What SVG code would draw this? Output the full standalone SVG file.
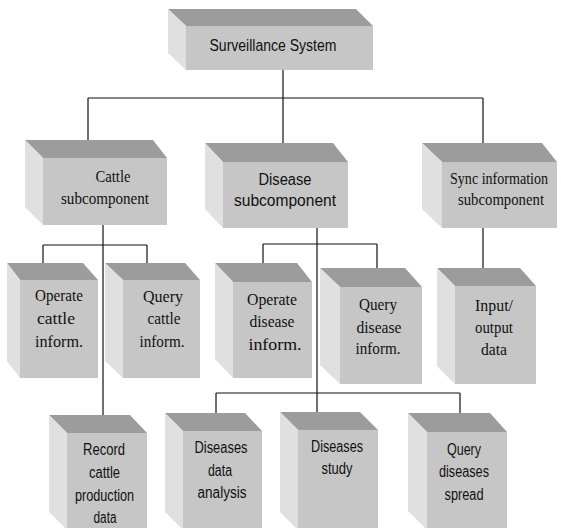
<svg xmlns="http://www.w3.org/2000/svg" width="561" height="528" viewBox="0 0 561 528">
<style>
.top{fill:#9c9c9c}
.left{fill:#e0e0e0}
.front{fill:#c6c6c6}
.ser{font-family:"Liberation Serif","DejaVu Serif","Times New Roman",serif;font-size:17px;fill:#111;text-anchor:middle}
.san{font-family:"Liberation Sans",Arial,sans-serif;font-size:16px;fill:#111;text-anchor:middle}
.con{stroke:#111;stroke-width:1.2;fill:none}
</style>
<rect width="561" height="528" fill="#fff"/>
<g id="connectors" class="con">
<path d="M283 70V98M88 98H483M88 98V140M283 98V143M483 98V143"/>
<path d="M103 225V415M43 245H147M43 245V263M147 245V263"/>
<path d="M317 228V412M263 244H377M263 244V263M377 244V268M216 393H460M216 393V413M460 393V413"/>
<path d="M483 228V268"/>
</g>
<g id="surveillance">
<polygon class="top" points="168,9 356,9 373,26 186,26"/>
<polygon class="left" points="168,9 186,26 186,70 168,53"/>
<rect class="front" x="186" y="26" width="187" height="44"/>
<text class="san" x="273" y="51" font-size="17" textLength="127" lengthAdjust="spacingAndGlyphs">Surveillance System</text>
</g>
<g id="cattle">
<polygon class="top" points="25,140 153,140 167,158 43,158"/>
<polygon class="left" points="25,140 43,158 43,225 25,207"/>
<rect class="front" x="43" y="158" width="124" height="67"/>
<text class="ser" x="113" y="182" textLength="35" lengthAdjust="spacingAndGlyphs">Cattle</text>
<text class="ser" x="105" y="204" textLength="88" lengthAdjust="spacingAndGlyphs">subcomponent</text>
</g>
<g id="disease">
<polygon class="top" points="205,143 333,143 348,162 223,162"/>
<polygon class="left" points="205,143 223,162 223,228 205,209"/>
<rect class="front" x="223" y="162" width="125" height="66"/>
<text class="san" x="285" y="185" font-size="17" textLength="53" lengthAdjust="spacingAndGlyphs">Disease</text>
<text class="san" x="285" y="206" font-size="17" textLength="102" lengthAdjust="spacingAndGlyphs">subcomponent</text>
</g>
<g id="sync">
<polygon class="top" points="422,143 542,143 557,162 442,162"/>
<polygon class="left" points="422,143 442,162 442,228 422,209"/>
<rect class="front" x="442" y="162" width="115" height="66"/>
<text class="ser" x="499" y="184" font-size="14" textLength="98" lengthAdjust="spacingAndGlyphs">Sync information</text>
<text class="ser" x="501" y="205" textLength="86" lengthAdjust="spacingAndGlyphs">subcomponent</text>
</g>
<g id="operate-cattle">
<polygon class="top" points="7,263 83,263 98,280 20,280"/>
<polygon class="left" points="7,263 20,280 20,378 7,361"/>
<rect class="front" x="20" y="280" width="78" height="98"/>
<text class="ser" x="59" y="301" textLength="48" lengthAdjust="spacingAndGlyphs">Operate</text>
<text class="ser" x="56" y="324" textLength="38" lengthAdjust="spacingAndGlyphs">cattle</text>
<text class="ser" x="59" y="347" textLength="48" lengthAdjust="spacingAndGlyphs">inform.</text>
</g>
<g id="query-cattle">
<polygon class="top" points="105,263 185,263 200,280 123,280"/>
<polygon class="left" points="105,263 123,280 123,378 105,361"/>
<rect class="front" x="123" y="280" width="77" height="98"/>
<text class="ser" x="163" y="302" textLength="40" lengthAdjust="spacingAndGlyphs">Query</text>
<text class="ser" x="164" y="324" textLength="33" lengthAdjust="spacingAndGlyphs">cattle</text>
<text class="ser" x="162" y="347" textLength="45" lengthAdjust="spacingAndGlyphs">inform.</text>
</g>
<g id="operate-disease">
<polygon class="top" points="215,263 297,263 312,282 233,282"/>
<polygon class="left" points="215,263 233,282 233,378 215,359"/>
<rect class="front" x="233" y="282" width="79" height="96"/>
<text class="ser" x="272" y="305" textLength="50" lengthAdjust="spacingAndGlyphs">Operate</text>
<text class="ser" x="272" y="327" textLength="45" lengthAdjust="spacingAndGlyphs">disease</text>
<text class="ser" x="275" y="350" textLength="53" lengthAdjust="spacingAndGlyphs">inform.</text>
</g>
<g id="query-disease">
<polygon class="top" points="320,268 405,268 422,287 340,287"/>
<polygon class="left" points="320,268 340,287 340,384 320,365"/>
<rect class="front" x="340" y="287" width="82" height="97"/>
<text class="ser" x="378" y="310" textLength="38" lengthAdjust="spacingAndGlyphs">Query</text>
<text class="ser" x="379" y="333" textLength="45" lengthAdjust="spacingAndGlyphs">disease</text>
<text class="ser" x="378" y="354" textLength="45" lengthAdjust="spacingAndGlyphs">inform.</text>
</g>
<g id="input-output">
<polygon class="top" points="437,268 520,268 536,286 455,286"/>
<polygon class="left" points="437,268 455,286 455,384 437,366"/>
<rect class="front" x="455" y="286" width="81" height="98"/>
<text class="ser" x="494" y="311" textLength="38" lengthAdjust="spacingAndGlyphs">Input/</text>
<text class="ser" x="494" y="333" textLength="38" lengthAdjust="spacingAndGlyphs">output</text>
<text class="ser" x="494" y="355" textLength="26" lengthAdjust="spacingAndGlyphs">data</text>
</g>
<g id="record">
<polygon class="top" points="49,415 130,415 147,433 67,433"/>
<polygon class="left" points="49,415 67,433 67,530 49,512"/>
<rect class="front" x="67" y="433" width="80" height="97"/>
<text class="san" x="104" y="455" textLength="42" lengthAdjust="spacingAndGlyphs">Record</text>
<text class="san" x="104.5" y="478" textLength="31" lengthAdjust="spacingAndGlyphs">cattle</text>
<text class="san" x="104.5" y="501" textLength="59" lengthAdjust="spacingAndGlyphs">production</text>
<text class="san" x="105" y="523" textLength="23" lengthAdjust="spacingAndGlyphs">data</text>
</g>
<g id="data-analysis">
<polygon class="top" points="165,413 245,413 262,431 183,431"/>
<polygon class="left" points="165,413 183,431 183,530 165,512"/>
<rect class="front" x="183" y="431" width="79" height="99"/>
<text class="san" x="221" y="453" textLength="53" lengthAdjust="spacingAndGlyphs">Diseases</text>
<text class="san" x="220" y="476" textLength="24" lengthAdjust="spacingAndGlyphs">data</text>
<text class="san" x="222" y="498" textLength="49" lengthAdjust="spacingAndGlyphs">analysis</text>
</g>
<g id="study">
<polygon class="top" points="280,412 360,412 378,430 298,430"/>
<polygon class="left" points="280,412 298,430 298,530 280,512"/>
<rect class="front" x="298" y="430" width="80" height="100"/>
<text class="san" x="337" y="452" textLength="52" lengthAdjust="spacingAndGlyphs">Diseases</text>
<text class="san" x="337" y="474" textLength="31" lengthAdjust="spacingAndGlyphs">study</text>
</g>
<g id="spread">
<polygon class="top" points="408,413 490,413 507,432 427,432"/>
<polygon class="left" points="408,413 427,432 427,530 408,511"/>
<rect class="front" x="427" y="432" width="80" height="98"/>
<text class="san" x="464" y="455" textLength="34" lengthAdjust="spacingAndGlyphs">Query</text>
<text class="san" x="464" y="477" textLength="50" lengthAdjust="spacingAndGlyphs">diseases</text>
<text class="san" x="464" y="500" textLength="39" lengthAdjust="spacingAndGlyphs">spread</text>
</g>
</svg>
